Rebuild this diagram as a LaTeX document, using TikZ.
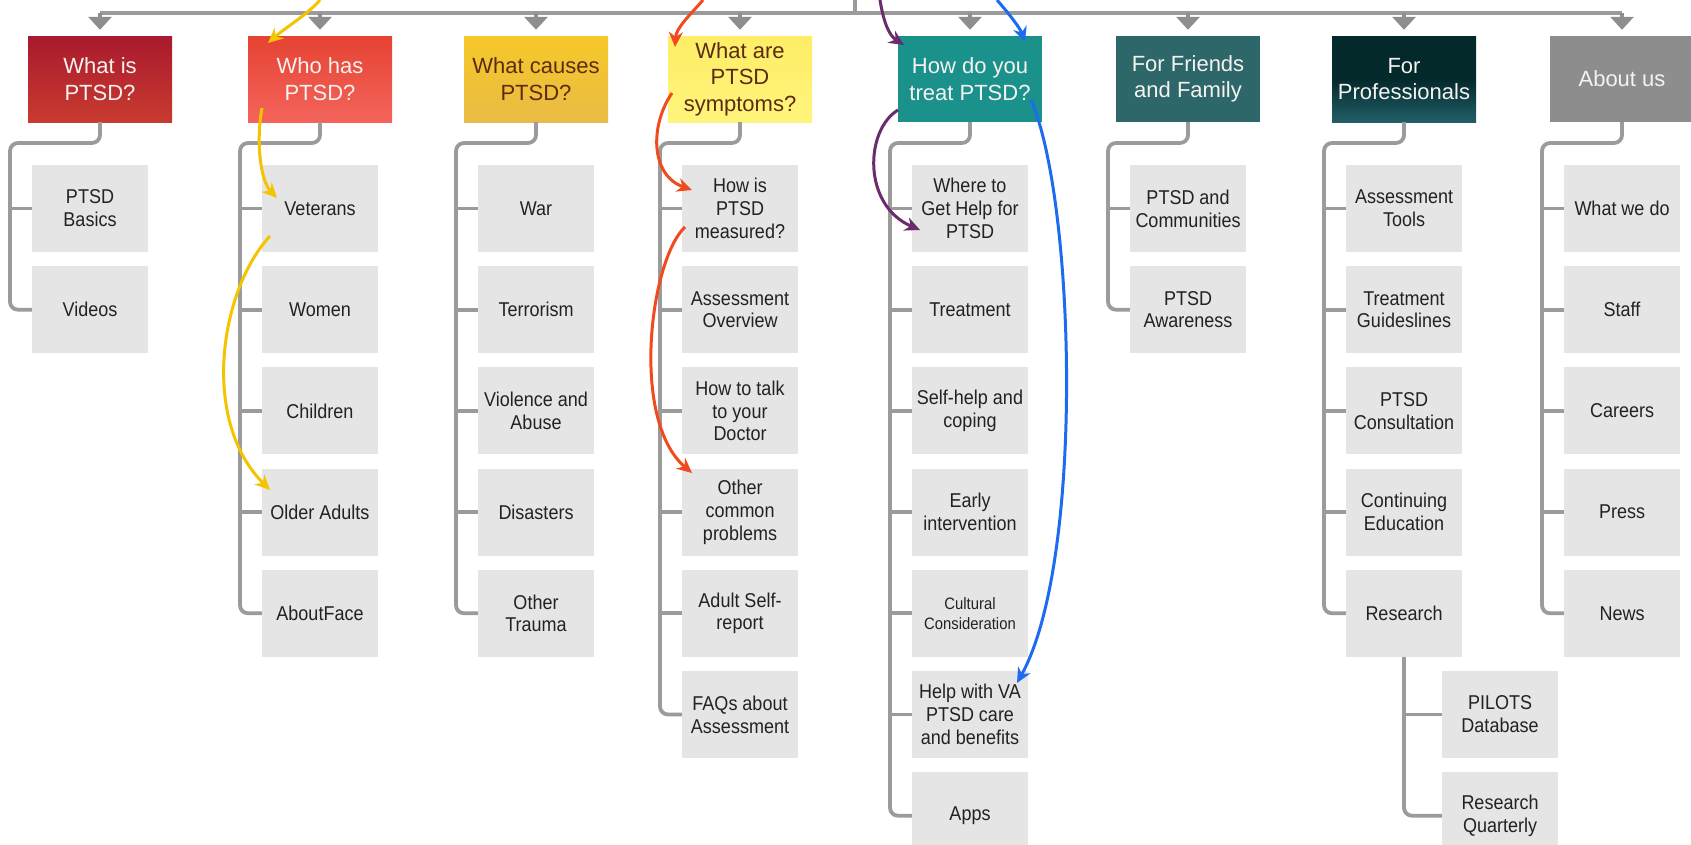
\documentclass[tikz,border=0pt]{standalone}
\usepackage{fontspec}
\setmainfont{Liberation Sans}
\newfontfamily\subf{Liberation Sans}[FakeStretch=0.9]
\usetikzlibrary{arrows.meta}
\definecolor{lineg}{HTML}{9B9B9B}
\definecolor{trig}{HTML}{8E8E8E}
\definecolor{subg}{HTML}{E5E5E5}
\definecolor{txtd}{HTML}{222222}
\definecolor{hdrd}{HTML}{5B2C12}
\definecolor{hwhite}{HTML}{F6F2F0}
\definecolor{caT}{HTML}{A81A2D}\definecolor{caB}{HTML}{C93B2F}
\definecolor{cbT}{HTML}{E64333}\definecolor{cbB}{HTML}{F4645B}
\definecolor{ccT}{HTML}{F6C828}\definecolor{ccB}{HTML}{E9BB45}
\definecolor{cdT}{HTML}{FEEE66}\definecolor{cdB}{HTML}{FFF47C}
\definecolor{ce}{HTML}{1B918C}
\definecolor{cf}{HTML}{2D6769}
\definecolor{cgT}{HTML}{04292B}\definecolor{cgB}{HTML}{215E67}
\definecolor{ch}{HTML}{8D8D8D}
\definecolor{ayel}{HTML}{F5C400}
\definecolor{ared}{HTML}{F04A1E}
\definecolor{apur}{HTML}{6B2C6E}
\definecolor{ablu}{HTML}{1D6CF0}
\begin{document}
\begin{tikzpicture}[x=1pt,y=-1pt,
  hdr/.style={minimum width=144pt,minimum height=86pt,inner sep=0pt,align=center,
    font=\fontsize{22}{26.5}\selectfont,text=hwhite},
  sub/.style={fill=subg,minimum width=116pt,minimum height=87pt,inner sep=0pt,align=center,
    font=\subf\fontsize{20}{22.8}\selectfont,text=txtd},
  conn/.style={draw=lineg,line width=3.8pt},
  tree/.style={conn,rounded corners=8pt},
  drop/.style={draw=trig,line width=3.8pt,shorten >=6pt,-{Triangle[length=13pt,width=23pt]}},
  curv/.style={line width=3pt,-{Stealth[length=15pt,width=14pt]}}]
\useasboundingbox (0,0) rectangle (1691,844);
\clip (0,0) rectangle (1691,844);
\fill[white] (0,0) rectangle (1691,844);

% header boxes
\node[hdr,top color=caT,bottom color=caB] (h1) at (100,79) {What is\\PTSD?};
\node[hdr,top color=cbT,bottom color=cbB] (h2) at (320,79) {Who has\\PTSD?};
\node[hdr,top color=ccT,bottom color=ccB,text=hdrd] (h3) at (536,79) {What causes\\PTSD?};
\node[hdr,top color=cdT,bottom color=cdB,text=hdrd] (h4) at (740,79) {What are\\PTSD\\symptoms?};
\node[hdr,fill=ce] (h5) at (970,79) {How do you\\treat PTSD?};
\node[hdr,fill=cf] (h6) at (1188,79) {For Friends\\and Family};
\node[hdr,top color=cgT,bottom color=cgB,middle color=cgT,shading angle=0] (h7) at (1404,79) {For\\Professionals};
\node[hdr,fill=ch] (h8) at (1622,79) {About us};

% top bar
\coordinate (root) at (855,0);
\coordinate (barL) at (100,13);
\coordinate (barR) at (1622,13);
\draw[conn] (root) -- (root |- barL);
\draw[conn] (barL) -- (barR);
\foreach \h in {h1,h2,h3,h4,h5,h6,h7,h8}{
  \draw[drop] (\h.north |- barL) -- (\h.north);
}

% sub boxes column 1
\node[sub] (s1a) at (90,208.5) {PTSD\\Basics};
\node[sub] (s1b) at (90,309.7) {Videos};
% column 2
\node[sub] (s2a) at (320,208.5) {Veterans};
\node[sub] (s2b) at (320,309.7) {Women};
\node[sub] (s2c) at (320,410.9) {Children};
\node[sub] (s2d) at (320,512.1) {Older Adults};
\node[sub] (s2e) at (320,613.3) {AboutFace};
% column 3
\node[sub] (s3a) at (536,208.5) {War};
\node[sub] (s3b) at (536,309.7) {Terrorism};
\node[sub] (s3c) at (536,410.9) {Violence and\\Abuse};
\node[sub] (s3d) at (536,512.1) {Disasters};
\node[sub] (s3e) at (536,613.3) {Other\\Trauma};
% column 4
\node[sub] (s4a) at (740,208.5) {How is\\PTSD\\measured?};
\node[sub] (s4b) at (740,309.7) {Assessment\\Overview};
\node[sub] (s4c) at (740,410.9) {How to talk\\to your\\Doctor};
\node[sub] (s4d) at (740,512.1) {Other\\common\\problems};
\node[sub] (s4e) at (740,613.3) {Adult Self-\\report};
\node[sub] (s4f) at (740,714.5) {FAQs about\\Assessment};
% column 5
\node[sub] (s5a) at (970,208.5) {Where to\\Get Help for\\PTSD};
\node[sub] (s5b) at (970,309.7) {Treatment};
\node[sub] (s5c) at (970,410.9) {Self-help and\\coping};
\node[sub] (s5d) at (970,512.1) {Early\\intervention};
\node[sub,font=\subf\fontsize{16.5}{20}\selectfont] (s5e) at (970,613.3) {Cultural\\Consideration};
\node[sub] (s5f) at (970,714.5) {Help with VA\\PTSD care\\and benefits};
\node[sub] (s5g) at (970,815.7) {Apps};
% column 6
\node[sub] (s6a) at (1188,208.5) {PTSD and\\Communities};
\node[sub] (s6b) at (1188,309.7) {PTSD\\Awareness};
% column 7
\node[sub] (s7a) at (1404,208.5) {Assessment\\Tools};
\node[sub] (s7b) at (1404,309.7) {Treatment\\Guideslines};
\node[sub] (s7c) at (1404,410.9) {PTSD\\Consultation};
\node[sub] (s7d) at (1404,512.1) {Continuing\\Education};
\node[sub] (s7e) at (1404,613.3) {Research};
\node[sub] (s7f) at (1500,714.5) {PILOTS\\Database};
\node[sub] (s7g) at (1500,815.7) {Research\\Quarterly};
% column 8
\node[sub] (s8a) at (1622,208.5) {What we do};
\node[sub] (s8b) at (1622,309.7) {Staff};
\node[sub] (s8c) at (1622,410.9) {Careers};
\node[sub] (s8d) at (1622,512.1) {Press};
\node[sub] (s8e) at (1622,613.3) {News};

% trunk corners
\coordinate (t1) at (10,143);
\coordinate (t2) at (240,143);
\coordinate (t3) at (456,143);
\coordinate (t4) at (660,143);
\coordinate (t5) at (890,143);
\coordinate (t6) at (1108,143);
\coordinate (t7) at (1324,143);
\coordinate (t8) at (1542,143);

\draw[tree] (h1.south) |- (t1) |- (s1b.west);
\draw[conn] (s1a.west) -- (s1a.west -| t1);

\draw[tree] (h2.south) |- (t2) |- (s2e.west);
\foreach \s in {s2a,s2b,s2c,s2d}{\draw[conn] (\s.west) -- (\s.west -| t2);}

\draw[tree] (h3.south) |- (t3) |- (s3e.west);
\foreach \s in {s3a,s3b,s3c,s3d}{\draw[conn] (\s.west) -- (\s.west -| t3);}

\draw[tree] (h4.south) |- (t4) |- (s4f.west);
\foreach \s in {s4a,s4b,s4c,s4d,s4e}{\draw[conn] (\s.west) -- (\s.west -| t4);}

\draw[tree] (h5.south) |- (t5) |- (s5g.west);
\foreach \s in {s5a,s5b,s5c,s5d,s5e,s5f}{\draw[conn] (\s.west) -- (\s.west -| t5);}

\draw[tree] (h6.south) |- (t6) |- (s6b.west);
\draw[conn] (s6a.west) -- (s6a.west -| t6);

\draw[tree] (h7.south) |- (t7) |- (s7e.west);
\foreach \s in {s7a,s7b,s7c,s7d}{\draw[conn] (\s.west) -- (\s.west -| t7);}
\draw[tree] (s7e.south) |- (s7g.west);
\draw[conn] (s7f.west) -- (s7f.west -| s7e.south);

\draw[tree] (h8.south) |- (t8) |- (s8e.west);
\foreach \s in {s8a,s8b,s8c,s8d}{\draw[conn] (\s.west) -- (\s.west -| t8);}

% curved arrows
\coordinate (ya0) at (320,0);  \coordinate (ya1) at (268,43);
\coordinate (yb0) at (262,108); \coordinate (yb1) at (277,198);
\coordinate (yc0) at (270,236); \coordinate (yc1) at (270,490);
\draw[curv,ayel] (ya0) .. controls (308,14) and (285,28) .. (ya1);
\draw[curv,ayel] (yb0) .. controls (256,140) and (260,180) .. (yb1);
\draw[curv,ayel] (yc0) .. controls (220,290) and (200,420) .. (yc1);

\coordinate (ra0) at (703,0);   \coordinate (ra1) at (675,47);
\coordinate (rb0) at (672,93);  \coordinate (rb1) at (692,190);
\coordinate (rc0) at (685,227); \coordinate (rc1) at (692,473);
\draw[curv,ared] (ra0) .. controls (690,15) and (676,28) .. (ra1);
\draw[curv,ared] (rb0) .. controls (650,125) and (650,175) .. (rb1);
\draw[curv,ared] (rc0) .. controls (650,260) and (630,420) .. (rc1);

\coordinate (pa0) at (880,0);   \coordinate (pa1) at (904,45);
\coordinate (pb0) at (898,110); \coordinate (pb1) at (920,230);
\draw[curv,apur] (pa0) .. controls (884,25) and (890,36) .. (pa1);
\draw[curv,apur] (pb0) .. controls (865,130) and (862,205) .. (pb1);

\coordinate (ba0) at (997,0);   \coordinate (ba1) at (1025,42);
\coordinate (bb0) at (1031,100); \coordinate (bb1) at (1017,683);
\draw[curv,ablu] (ba0) .. controls (1010,15) and (1020,28) .. (ba1);
\draw[curv,ablu] (bb0) .. controls (1075,200) and (1085,560) .. (bb1);
\end{tikzpicture}
\end{document}
